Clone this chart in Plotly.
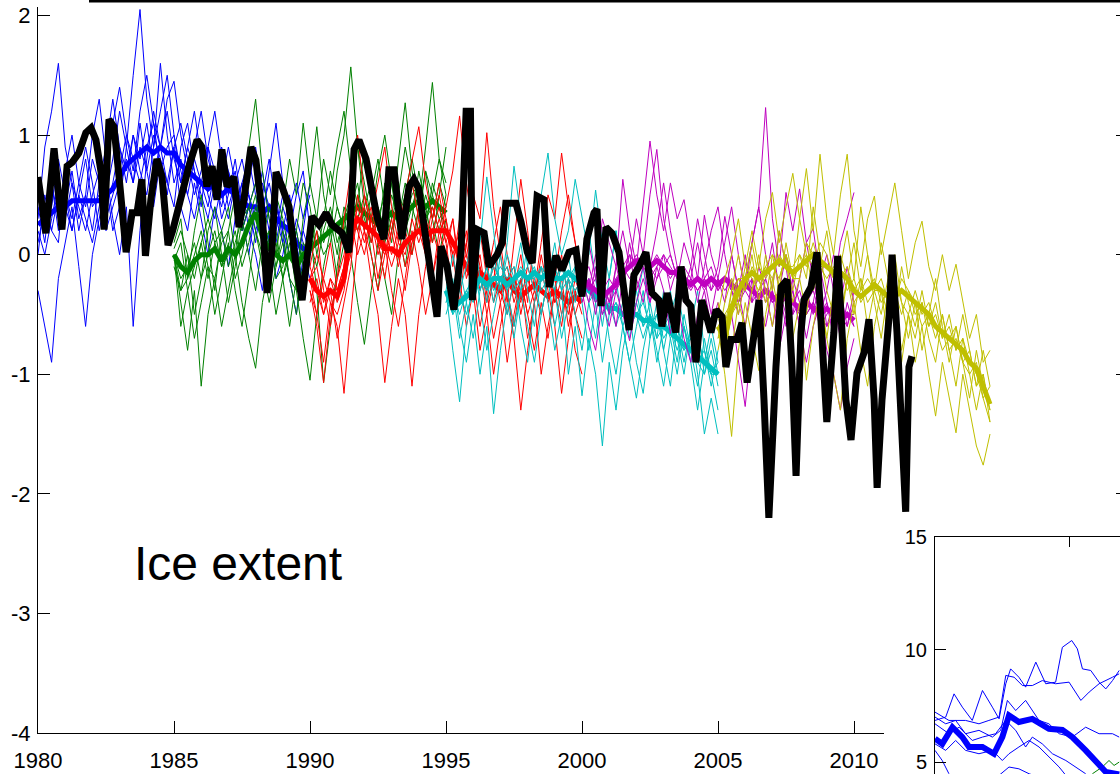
import plotly.graph_objects as go

W, H = 1120, 774

# ---------------- data ----------------
STEP = 0.25  # quarter-year spacing of hindcast members

blue_start = 1980.0
blue_mean = [0.25, 0.3, 0.35, 0.4, 0.4, 0.45, 0.45, 0.45, 0.45, 0.45,
             0.5, 0.55, 0.65, 0.75, 0.8, 0.85, 0.9, 0.85, 0.9, 0.85,
             0.85, 0.75, 0.7, 0.65, 0.6, 0.55, 0.6, 0.5, 0.55, 0.5,
             0.45, 0.4, 0.4, 0.35, 0.4, 0.3, 0.25, 0.2, 0.1, 0.05, 0.0]
blue_members = [
    [0.3, 0.9, 1.2, 1.6, 0.9, 0.6, 0.2, 0.5, 1.0, 1.3,
     0.8, 1.1, 1.4, 1.0, 0.7, 1.2, 1.5, 1.1, 0.9, 1.3,
     1.45, 1.0, 0.7, 0.9, 1.2, 0.8, 0.6, 0.9, 0.7, 0.4,
     0.6, 0.8, 0.5, 0.3, 0.7, 1.1, 0.6, 0.4, 0.6, 0.3, 0.5],
    [-0.3, -0.6, -0.9, -0.2, 0.1, 0.4, -0.1, -0.6, 0.0, 0.3,
     0.6, 0.2, 0.4, 0.9, 0.6, 1.1, 0.7, 0.4, 0.8, 0.5,
     0.9, 0.4, 0.2, 0.6, 0.3, 0.0, 0.4, 0.2, -0.1, 0.3,
     0.6, 0.2, 0.0, -0.3, 0.2, 0.5, 0.1, -0.2, -0.5, 0.0, -0.2],
    [0.5, 0.2, 0.4, 0.8, 0.5, 0.3, 0.6, 0.9, 0.6, 0.2,
     0.5, 0.8, 1.2, 0.9, 1.5, 2.05, 1.3, 0.9, 1.2, 1.5,
     1.0, 0.6, 0.9, 1.2, 0.8, 0.5, 0.3, 0.6, 0.9, 0.6,
     0.2, 0.4, 0.1, 0.5, 0.8, 0.4, 0.2, 0.5, 0.1, -0.3, 0.1],
    [0.4, 0.1, 0.6, 0.3, 0.5, 0.2, 0.5, 0.3, 0.1, 0.4,
     0.7, 0.3, 0.0, 0.4, -0.6, 0.2, 0.8, 1.2, 0.9, 0.6,
     0.4, 0.9, 1.1, 0.7, 0.4, 0.9, 1.2, 0.8, 0.5, 0.7,
     0.3, 0.0, 0.4, 0.7, 0.3, 0.1, 0.4, 0.2, 0.5, 0.7, 0.2],
    [0.0, 0.5, 0.2, 0.1, 0.7, 1.0, 0.6, 0.4, 0.8, 0.6,
     0.9, 1.3, 0.9, 0.6, 1.0, 0.7, 0.5, 0.9, 1.6, 1.0,
     0.6, 0.8, 0.5, 0.3, 0.6, 0.9, 0.7, 0.3, 0.5, 0.8,
     0.4, 0.6, 0.9, 0.5, 0.2, -0.2, 0.0, 0.3, -0.1, 0.2, 0.6],
    [0.1, 0.4, 0.2, 0.5, 0.3, 0.6, 0.4, 0.2, 0.5, 0.7,
     0.4, 0.6, 0.9, 0.7, 1.0, 0.8, 1.1, 0.7, 0.9, 1.2,
     0.8, 0.6, 0.9, 0.7, 0.5, 0.3, 0.6, 0.4, 0.7, 0.5,
     0.2, 0.4, 0.6, 0.3, 0.1, 0.4, 0.2, 0.0, 0.3, 0.1, -0.1],
    [0.5, 0.3, 0.6, 0.2, 0.4, 0.7, 0.3, 0.5, 0.2, 0.6,
     0.3, 0.5, 0.7, 1.0, 0.8, 0.6, 0.9, 1.1, 0.7, 0.9,
     1.0, 0.7, 0.5, 0.8, 0.6, 0.4, 0.7, 0.5, 0.3, 0.6,
     0.8, 0.5, 0.3, 0.6, 0.4, 0.2, 0.5, 0.3, 0.0, 0.2, 0.0],
    [0.2, 0.0, 0.3, 0.6, 0.4, 0.2, 0.5, 0.8, 0.4, 0.5,
     0.2, 0.4, 0.6, 0.8, 0.6, 0.9, 0.7, 1.0, 0.8, 0.6,
     0.9, 1.1, 0.8, 0.5, 0.7, 0.9, 0.5, 0.7, 0.4, 0.6,
     0.3, 0.5, 0.2, 0.4, 0.6, 0.3, 0.1, 0.3, 0.2, -0.1, 0.1],
]

green_start = 1985.0
green_mean = [0.0, -0.1, -0.15, -0.05, 0.0, 0.0, 0.05, -0.05, 0.05, 0.0,
              0.1, 0.25, 0.35, 0.15, 0.05, 0.0, -0.05, 0.0, -0.1, 0.0,
              0.05, 0.1, 0.15, 0.2, 0.25, 0.3, 0.35, 0.4, 0.35, 0.3,
              0.25, 0.3, 0.35, 0.3, 0.35, 0.4, 0.45, 0.4, 0.45, 0.4, 0.35]
green_members = [
    [0.0, -0.4, -0.8, -0.3, -1.1, -0.5, -0.2, -0.6, -0.3, 0.0,
     -0.4, -0.7, -0.95, -0.4, -0.1, -0.5, -0.2, 0.1, -0.3, -0.7,
     -1.05, -0.5, -0.1, 0.2, -0.2, 0.1, 0.4, 0.6, 0.2, 0.5,
     0.8, 0.4, 0.1, 0.5, 0.9, 0.6, 0.3, 0.7, 0.5, 0.8, 0.6],
    [0.1, 0.3, -0.2, 0.2, 0.5, 0.1, -0.3, 0.2, 0.4, 0.0,
     0.5, 0.9, 1.3, 0.7, 0.3, 0.0, 0.4, 0.8, 0.5, 1.1,
     0.6, 0.3, 0.8, 0.5, 0.9, 1.2, 0.7, 0.4, 0.9, 0.5,
     0.2, 0.6, 0.3, 0.8, 1.27, 0.7, 0.4, 0.9, 1.44, 0.8, 0.5],
    [-0.1, -0.3, 0.0, -0.5, -0.2, 0.2, 0.4, 0.0, -0.4, -0.1,
     0.3, 0.0, -0.3, 0.1, 0.4, 0.2, -0.2, -0.6, -0.2, 0.3,
     0.6, 1.07, 0.5, 0.2, 0.7, 1.0, 1.57, 0.9, 0.4, 0.0,
     -0.3, 0.2, 0.6, 0.2, -0.1, 0.3, 0.7, 0.4, 0.1, 0.5, 0.9],
    [0.0, -0.6, -0.3, -0.7, -0.4, -0.1, -0.5, -0.2, 0.1, -0.3,
     -0.6, -0.2, 0.2, -0.1, -0.4, -0.1, 0.2, -0.2, -0.5, -0.1,
     0.2, -0.3, -1.07, -0.6, -0.1, 0.3, 0.0, -0.4, -0.75, -0.3,
     0.1, -0.2, -0.5, 0.0, 0.3, 0.0, 0.4, 0.7, 0.3, 0.0, 0.3],
    [0.05, 0.2, 0.0, -0.2, 0.1, 0.3, 0.1, -0.1, 0.2, 0.5,
     0.2, 0.4, 0.6, 0.3, 0.1, 0.5, 0.3, 0.0, 0.2, 0.6,
     0.4, 0.0, 0.3, 0.7, 0.4, 0.2, 0.5, 0.9, 0.6, 0.3,
     0.7, 1.0, 0.6, 0.3, 0.5, 0.8, 0.5, 0.2, 0.6, 0.4, 0.2],
    [0.0, -0.2, -0.1, 0.1, -0.2, 0.0, 0.2, -0.1, 0.0, 0.2,
     -0.1, 0.1, 0.4, 0.2, -0.1, 0.1, -0.2, 0.0, 0.2, -0.1,
     0.0, 0.3, 0.1, 0.3, 0.0, 0.4, 0.2, 0.5, 0.3, 0.1,
     0.4, 0.2, 0.5, 0.3, 0.6, 0.4, 0.6, 0.3, 0.5, 0.3, 0.4],
    [-0.05, 0.1, -0.3, -0.1, 0.1, -0.2, 0.1, 0.2, -0.1, 0.1,
     0.3, 0.4, 0.2, 0.0, 0.2, -0.2, -0.1, 0.2, 0.0, -0.2,
     0.1, -0.1, 0.2, 0.4, 0.1, 0.3, 0.5, 0.2, 0.4, 0.6,
     0.3, 0.1, 0.3, 0.5, 0.2, 0.4, 0.2, 0.5, 0.3, 0.6, 0.4],
    [0.0, -0.3, -0.2, 0.0, 0.2, -0.1, -0.2, 0.1, 0.2, -0.2,
     0.0, 0.3, 0.5, 0.1, 0.2, -0.1, 0.1, -0.2, -0.3, 0.1,
     0.0, 0.2, 0.0, 0.1, 0.4, 0.2, 0.1, 0.3, 0.5, 0.2,
     0.3, 0.5, 0.2, 0.4, 0.3, 0.5, 0.6, 0.3, 0.4, 0.2, 0.5],
]

red_start = 1990.0
red_mean = [-0.2, -0.3, -0.35, -0.3, -0.35, -0.2, 0.2, 0.3, 0.25, 0.2,
            0.15, 0.05, 0.05, 0.0, 0.1, 0.15, 0.2, 0.15, 0.2, 0.2,
            0.2, 0.1, 0.0, -0.1, -0.2, -0.15, -0.2, -0.25, -0.3, -0.2,
            -0.3, -0.35, -0.3, -0.25, -0.3, -0.35, -0.3, -0.35, -0.4, -0.35, -0.4]
red_members = [
    [-0.2, -0.5, -0.9, -0.4, -0.6, -1.16, -0.5, 0.1, 0.5, 0.2,
     -0.2, 0.1, -0.3, -0.6, -0.2, 0.2, -0.1, -0.5, -0.2, 0.1,
     0.4, 0.7, 1.16, 0.6, 0.2, -0.1, -0.5, -0.2, 0.1, -0.3,
     -0.7, -1.3, -0.8, -0.4, 0.0, -0.3, -0.6, -1.16, -0.7, -0.3, -0.5],
    [-0.1, 0.2, -0.3, -0.6, -0.2, 0.3, 0.7, 1.0, 0.5, 0.3,
     0.6, 0.9, 0.4, 0.1, 0.5, 0.8, 1.07, 0.6, 0.3, 0.5,
     0.2, 0.0, -0.4, 0.1, 0.5, 0.3, 1.02, 0.4, 0.0, -0.4,
     0.1, 0.63, 0.2, -0.3, 0.1, 0.5, 0.3, 0.85, 0.4, 0.1, -0.2],
    [-0.3, -0.6, -1.07, -0.5, -0.2, 0.0, 0.3, 0.0, 0.2, -0.2,
     -0.5, -1.07, -0.6, -0.2, -0.5, -1.1, -0.5, -0.1, 0.2, 0.4,
     0.1, -0.3, -0.1, 0.2, -0.2, -0.6, -0.3, -0.7, -0.4, -0.9,
     -0.5, -0.2, -0.5, -0.8, -0.4, -0.7, -0.3, 0.0, -0.4, -0.8, -1.0],
    [-0.2, 0.0, -0.2, 0.1, -0.3, -0.1, 0.4, 0.2, 0.0, 0.3,
     0.1, -0.2, 0.2, 0.5, 0.3, 0.6, 0.3, 0.0, 0.3, 0.6,
     0.3, -0.1, 0.3, 0.0, -0.3, 0.2, -0.2, 0.1, 0.4, 0.0,
     -0.3, 0.0, -0.4, 0.2, 0.5, 0.1, -0.2, 0.2, 0.5, 0.1, -0.3],
    [-0.4, -0.2, -0.5, -0.3, -0.7, -0.4, -0.1, 0.5, 0.2, 0.0,
     -0.3, 0.0, 0.3, 0.0, -0.3, 0.1, 0.4, 0.1, -0.2, 0.2,
     0.0, 0.3, -0.2, -0.6, -0.3, -0.8, -0.5, -1.0, -0.6, -0.3,
     -0.6, -0.2, -0.7, -0.4, -1.0, -0.6, -0.3, -0.6, -0.2, -0.5, -0.7],
    [-0.3, -0.5, -0.2, -0.4, -0.5, -0.3, 0.1, 0.4, 0.2, 0.4,
     0.1, 0.0, 0.2, -0.1, 0.2, 0.0, 0.3, 0.1, 0.4, 0.2,
     0.3, 0.0, 0.2, -0.2, 0.0, -0.3, -0.1, -0.4, -0.2, -0.1,
     -0.4, -0.2, -0.5, -0.3, -0.1, -0.4, -0.2, -0.5, -0.3, -0.5, -0.3],
    [-0.2, -0.1, -0.4, -0.2, -0.3, -0.1, 0.3, 0.2, 0.4, 0.1,
     0.3, 0.1, -0.1, 0.1, 0.0, 0.3, 0.1, 0.3, 0.1, 0.3,
     0.1, 0.3, -0.1, 0.1, -0.3, -0.1, -0.3, -0.1, -0.4, -0.2,
     -0.1, -0.5, -0.2, -0.4, -0.2, -0.1, -0.4, -0.2, -0.6, -0.3, -0.2],
    [-0.1, -0.3, -0.5, -0.2, -0.4, -0.2, 0.0, 0.3, 0.1, 0.3,
     0.0, 0.2, 0.0, 0.2, -0.1, 0.1, 0.2, 0.0, 0.2, 0.0,
     0.2, 0.1, -0.1, 0.0, -0.2, 0.0, -0.4, -0.2, -0.3, -0.5,
     -0.2, -0.4, -0.1, -0.3, -0.5, -0.2, -0.4, -0.3, -0.5, -0.2, -0.4],
]

cyan_start = 1995.0
cyan_mean = [-0.3, -0.45, -0.4, -0.35, -0.3, -0.2, -0.25, -0.2, -0.2, -0.25,
             -0.2, -0.15, -0.2, -0.15, -0.2, -0.15, -0.2, -0.2, -0.15, -0.2,
             -0.25, -0.3, -0.35, -0.4, -0.45, -0.45, -0.5, -0.5, -0.5, -0.55,
             -0.55, -0.6, -0.6, -0.65, -0.7, -0.75, -0.8, -0.85, -0.9, -0.95, -1.0]
cyan_members = [
    [-0.3, -0.8, -1.23, -0.6, -0.2, 0.1, 0.65, 0.2, -0.3, 0.1,
     0.74, 0.3, -0.1, 0.2, 0.5, 0.85, 0.3, 0.0, 0.2, 0.63,
     0.3, 0.0, 0.54, 0.1, -0.2, 0.2, -0.2, -0.5, -0.3, -0.6,
     -0.4, -0.7, -0.3, -0.6, -0.9, -0.5, -0.8, -1.1, -0.7, -1.0, -1.3],
    [-0.4, -0.2, -0.6, -0.9, -0.5, -1.0, -0.6, -1.33, -0.8, -0.4,
     -0.7, -0.3, -0.6, -0.9, -0.5, -0.2, -0.6, -0.3, -1.0, -0.6,
     -1.18, -0.7, -1.0, -1.6, -0.9, -1.3, -0.8, -0.5, -0.9, -1.16,
     -0.7, -0.4, -0.8, -1.1, -0.6, -0.9, -0.6, -1.0, -1.5, -1.2, -1.5],
    [-0.2, -0.5, -0.1, -0.4, -0.7, -0.3, -0.1, -0.4, 0.0, -0.3,
     -0.6, -0.3, 0.1, -0.2, -0.5, -0.2, 0.1, -0.3, 0.0, -0.4,
     -0.1, 0.2, -0.2, -0.6, -0.2, 0.2, -0.3, -0.7, -0.4, -0.1,
     -0.5, -0.9, -0.6, -0.3, -0.7, -1.0, -0.6, -0.3, -0.8, -1.1, -0.8],
    [-0.5, -0.3, -0.7, -0.4, 0.0, -0.4, -0.8, -0.5, -0.2, -0.5,
     -0.2, -0.6, -0.9, -0.4, -0.1, -0.4, -0.8, -0.5, -0.2, -0.5,
     -0.8, -0.4, -0.7, -0.3, -0.7, -1.0, -0.6, -0.9, -1.2, -0.8,
     -0.5, -0.8, -1.1, -0.7, -1.0, -0.6, -0.9, -1.3, -0.9, -0.6, -0.9],
    [-0.3, 0.0, -0.3, -0.1, 0.2, -0.2, -0.4, 0.0, -0.3, 0.0,
     -0.2, 0.1, -0.3, -0.6, -0.2, 0.0, -0.3, -0.7, -0.4, -0.1,
     -0.4, -0.8, -0.4, -0.9, -0.5, -0.2, -0.6, -0.9, -0.6, -0.3,
     -0.7, -0.5, -0.8, -0.5, -0.3, -0.6, -0.9, -0.6, -1.0, -0.7, -1.0],
    [-0.4, -0.3, -0.5, -0.3, -0.2, -0.3, -0.1, -0.3, -0.2, -0.1,
     -0.3, -0.2, -0.1, -0.3, -0.2, -0.1, -0.2, -0.1, -0.3, -0.2,
     -0.3, -0.2, -0.4, -0.3, -0.5, -0.4, -0.6, -0.4, -0.5, -0.7,
     -0.5, -0.6, -0.5, -0.7, -0.6, -0.8, -0.7, -0.9, -0.8, -1.0, -0.9],
    [-0.3, -0.5, -0.4, -0.3, -0.4, -0.2, -0.3, -0.1, -0.2, -0.3,
     -0.2, -0.1, -0.2, -0.1, -0.3, -0.2, -0.1, -0.3, -0.2, -0.1,
     -0.2, -0.4, -0.3, -0.5, -0.4, -0.6, -0.4, -0.5, -0.4, -0.6,
     -0.5, -0.7, -0.6, -0.5, -0.7, -0.8, -0.7, -0.9, -1.0, -0.8, -1.1],
    [-0.35, -0.4, -0.3, -0.5, -0.3, -0.2, -0.3, -0.2, -0.1, -0.2,
     -0.1, -0.3, -0.2, -0.2, -0.1, -0.2, -0.3, -0.1, -0.2, -0.3,
     -0.2, -0.3, -0.4, -0.3, -0.5, -0.4, -0.5, -0.6, -0.5, -0.4,
     -0.6, -0.5, -0.7, -0.6, -0.8, -0.6, -0.8, -0.7, -0.9, -1.0, -1.0],
]

magenta_start = 2000.0
magenta_mean = [-0.2, -0.25, -0.3, -0.35, -0.3, -0.25, -0.15, -0.1, -0.05, -0.05,
                -0.1, -0.05, -0.1, -0.15, -0.15, -0.2, -0.25, -0.2, -0.25, -0.2,
                -0.25, -0.2, -0.25, -0.3, -0.25, -0.3, -0.35, -0.3, -0.35, -0.4,
                -0.35, -0.4, -0.45, -0.4, -0.45, -0.5, -0.45, -0.5, -0.55, -0.5, -0.55]
magenta_members = [
    [-0.2, 0.1, -0.2, 0.3, 0.1, -0.1, 0.63, 0.2, -0.1, 0.4,
     0.95, 0.5, 0.2, 0.6, 0.3, 0.46, 0.1, -0.2, 0.33, 0.0,
     -0.2, 0.1, 0.4, 0.0, -0.3, 0.1, 0.4, 1.23, 0.3, -0.1,
     0.52, 0.2, 0.55, 0.1, 0.22, -0.2, 0.0, -0.3, 0.1, 0.3, 0.52],
    [-0.3, -0.6, -0.8, -0.4, -0.6, -0.3, -0.5, -0.72, -0.4, -0.2,
     -0.4, -0.1, -0.3, -0.66, -0.4, -0.7, -0.9, -0.5, -0.3, -0.6,
     -0.4, -0.7, -0.5, -0.9, -1.27, -0.7, -0.4, -0.6, -0.3, -0.79,
     -0.5, -0.3, -0.6, -0.9, -0.6, -0.4, -0.8, -1.0, -1.3, -0.94, -0.7],
    [-0.1, -0.3, 0.0, -0.2, -0.5, -0.1, 0.2, -0.1, 0.3, 0.0,
     0.5, 0.88, 0.3, 0.0, -0.2, 0.1, -0.1, -0.4, -0.1, 0.2,
     0.4, 0.0, -0.3, -0.5, -0.2, 0.1, 0.4, 0.0, -0.3, 0.2,
     -0.1, -0.5, -0.2, 0.1, -0.2, -0.5, -0.3, 0.0, -0.3, -0.6, -0.3],
    [-0.4, -0.2, -0.5, -0.2, -0.4, -0.1, -0.3, 0.1, -0.2, -0.4,
     -0.1, 0.2, 0.6, 0.2, -0.1, -0.3, -0.1, 0.3, 0.0, -0.3,
     -0.1, 0.32, 0.0, -0.3, 0.0, -0.4, -0.1, -0.3, -0.6, -0.3,
     0.0, -0.3, -0.6, -0.3, -0.5, -0.2, -0.6, -0.4, -0.7, -0.4, -0.6],
    [-0.2, -0.4, -0.1, -0.5, -0.3, -0.6, -0.2, 0.0, -0.3, -0.1,
     -0.4, -0.2, 0.0, -0.3, -0.1, -0.4, -0.2, 0.1, -0.2, -0.5,
     -0.2, -0.4, 0.0, -0.3, -0.6, -0.2, -0.5, -0.2, 0.1, -0.3,
     -0.6, -0.2, -0.4, -0.7, -0.4, -0.1, -0.4, -0.7, -0.4, -0.1, -0.4],
    [-0.2, -0.3, -0.2, -0.4, -0.3, -0.2, -0.1, 0.0, -0.1, 0.0,
     -0.1, 0.0, -0.1, -0.2, -0.1, -0.2, -0.3, -0.2, -0.3, -0.2,
     -0.3, -0.2, -0.3, -0.2, -0.3, -0.4, -0.3, -0.2, -0.4, -0.3,
     -0.4, -0.5, -0.4, -0.5, -0.4, -0.5, -0.6, -0.5, -0.6, -0.5, -0.6],
    [-0.3, -0.2, -0.4, -0.3, -0.2, -0.3, -0.2, -0.1, 0.0, -0.1,
     -0.2, -0.1, 0.0, -0.1, -0.2, -0.3, -0.2, -0.3, -0.2, -0.3,
     -0.2, -0.3, -0.2, -0.4, -0.3, -0.2, -0.4, -0.3, -0.4, -0.3,
     -0.5, -0.4, -0.3, -0.5, -0.4, -0.6, -0.5, -0.4, -0.6, -0.5, -0.5],
    [-0.2, -0.1, -0.3, -0.2, -0.4, -0.3, -0.1, -0.2, -0.1, 0.0,
     -0.1, -0.2, -0.1, 0.0, -0.2, -0.1, -0.2, -0.3, -0.2, -0.1,
     -0.3, -0.2, -0.3, -0.4, -0.2, -0.3, -0.2, -0.4, -0.3, -0.5,
     -0.3, -0.4, -0.5, -0.4, -0.3, -0.5, -0.4, -0.6, -0.5, -0.6, -0.4],
]

yellow_start = 2005.0
yellow_mean = [-0.6, -0.7, -0.45, -0.3, -0.2, -0.15, -0.2, -0.15, -0.1, -0.05,
               -0.1, -0.15, -0.1, -0.05, 0.0, -0.05, -0.1, -0.15, -0.15, -0.2,
               -0.3, -0.35, -0.3, -0.25, -0.3, -0.35, -0.35, -0.3, -0.35, -0.4,
               -0.45, -0.5, -0.6, -0.65, -0.7, -0.75, -0.8, -0.9, -0.95, -1.1, -1.25]
yellow_members = [
    [-0.6, -1.0, -1.52, -0.8, -0.4, -0.7, -0.97, -0.5, -0.2, -0.5,
     -0.3, -0.7, -0.4, -1.05, -0.6, -0.3, -0.7, -1.0, -1.3, -0.7,
     -0.4, -0.8, -1.1, -0.6, -0.3, -0.7, -0.4, -0.8, -0.5, -0.9,
     -0.6, -1.0, -1.35, -0.9, -1.2, -1.49, -1.0, -1.3, -1.6, -1.76, -1.5],
    [-0.5, -0.2, 0.0, 0.3, -0.1, 0.2, -0.1, 0.3, 0.52, 0.1,
     0.4, 0.68, 0.3, 0.72, 0.2, 0.84, 0.3, 0.0, 0.5, 0.84,
     0.2, -0.1, 0.3, 0.49, 0.0, 0.3, 0.6, 0.2, -0.2, 0.1,
     0.28, -0.1, -0.3, 0.0, -0.3, -0.08, -0.4, -0.7, -0.5, -0.9, -0.8],
    [-0.7, -0.4, -0.2, -0.5, -0.2, 0.1, -0.2, -0.4, 0.0, -0.3,
     0.1, -0.2, 0.3, 0.0, -0.3, -0.1, 0.2, -0.2, -0.5, -0.2,
     0.1, -0.3, 0.0, -0.4, -0.7, -0.3, 0.0, -0.4, -0.7, -0.4,
     -0.8, -0.5, -0.2, -0.6, -0.9, -0.6, -0.9, -1.2, -0.8, -1.1, -1.3],
    [-0.8, -0.5, -0.8, -0.4, -0.6, -0.3, 0.0, -0.3, -0.6, -0.2,
     0.0, -0.4, -0.2, -0.5, -0.1, -0.4, -0.7, -0.3, -0.6, -0.2,
     -0.5, -0.2, -0.6, -0.3, -0.5, -0.2, -0.5, -0.9, -0.5, -0.7,
     -0.4, -0.7, -0.9, -0.5, -0.8, -1.1, -0.7, -1.0, -1.3, -1.0, -1.4],
    [-0.4, -0.7, -0.3, 0.0, -0.3, 0.0, -0.4, 0.0, -0.3, 0.2,
     -0.1, -0.3, 0.0, -0.2, 0.4, 0.0, -0.3, -0.5, -0.1, 0.2,
     -0.2, 0.4, 0.0, -0.3, 0.1, -0.2, -0.5, -0.1, -0.4, -0.6,
     -0.3, -0.6, -0.4, -0.7, -0.5, -0.8, -0.5, -0.8, -1.1, -0.8, -1.1],
    [-0.6, -0.5, -0.4, -0.2, -0.3, -0.1, -0.2, -0.1, 0.0, -0.1,
     0.0, -0.2, -0.1, 0.0, -0.1, 0.1, 0.0, -0.2, -0.1, -0.3,
     -0.2, -0.4, -0.3, -0.2, -0.4, -0.3, -0.4, -0.2, -0.3, -0.5,
     -0.4, -0.6, -0.5, -0.7, -0.6, -0.8, -0.7, -0.9, -1.0, -1.2, -1.1],
    [-0.5, -0.8, -0.5, -0.4, -0.1, -0.2, -0.3, -0.1, -0.2, 0.0,
     -0.1, -0.1, 0.0, -0.1, 0.1, -0.1, -0.2, -0.1, -0.2, -0.1,
     -0.3, -0.2, -0.4, -0.3, -0.2, -0.4, -0.3, -0.5, -0.3, -0.4,
     -0.6, -0.5, -0.7, -0.5, -0.8, -0.7, -0.9, -0.8, -1.1, -1.0, -1.3],
    [-0.7, -0.6, -0.3, -0.2, -0.2, -0.3, -0.1, -0.2, -0.1, -0.2,
     0.0, -0.2, -0.2, 0.1, 0.0, -0.1, -0.1, -0.2, 0.0, -0.2,
     -0.4, -0.3, -0.2, -0.3, -0.3, -0.5, -0.2, -0.4, -0.5, -0.3,
     -0.5, -0.4, -0.6, -0.8, -0.7, -0.6, -0.9, -1.0, -0.9, -1.2, -1.4],
]

obs_years = [1980.0, 1980.29, 1980.59, 1980.88, 1981.07, 1981.25, 1981.5, 1981.76, 1981.95, 1982.13,
             1982.32, 1982.43, 1982.61, 1982.79, 1982.98, 1983.24, 1983.46, 1983.64, 1983.82, 1983.95,
             1984.15, 1984.37, 1984.56, 1984.78, 1984.95, 1985.26, 1985.55, 1985.85, 1986.03, 1986.21,
             1986.4, 1986.58, 1986.76, 1986.95, 1987.2, 1987.39, 1987.57, 1987.83, 1988.01, 1988.24,
             1988.42, 1988.6, 1988.75, 1988.97, 1989.23, 1989.49, 1989.71, 1990.07, 1990.33, 1990.59,
             1990.81, 1991.18, 1991.43, 1991.62, 1991.8, 1992.06, 1992.24, 1992.46, 1992.72, 1992.9,
             1993.09, 1993.27, 1993.38, 1993.64, 1993.82, 1994.0, 1994.26, 1994.49, 1994.67, 1994.82,
             1995.04, 1995.29, 1995.55, 1995.74, 1995.9, 1995.97, 1996.15, 1996.4, 1996.58, 1996.88,
             1997.07, 1997.2, 1997.57, 1997.76, 1997.99, 1998.17, 1998.35, 1998.6, 1998.79, 1999.04,
             1999.26, 1999.52, 1999.78, 2000.0, 2000.18, 2000.44, 2000.55, 2000.7, 2000.88, 2001.1,
             2001.36, 2001.54, 2001.73, 2001.91, 2002.1, 2002.35, 2002.57, 2002.83, 2002.94, 2003.13,
             2003.45, 2003.64, 2003.82, 2004.0, 2004.19, 2004.41, 2004.6, 2004.74, 2004.93, 2005.15,
             2005.29, 2005.48, 2005.7, 2005.88, 2006.07, 2006.25, 2006.51, 2006.69, 2006.87, 2007.13,
             2007.32, 2007.54, 2007.72, 2007.87, 2008.05, 2008.16, 2008.42, 2008.64, 2008.82, 2009.0,
             2009.26, 2009.4, 2009.7, 2009.89, 2010.11, 2010.37, 2010.55, 2010.74, 2010.85, 2011.03,
             2011.29, 2011.4, 2011.58, 2011.77, 2011.9, 2012.02, 2012.13]
obs_values = [0.65, 0.18, 0.89, 0.21, 0.74, 0.77, 0.85, 1.02, 1.06, 0.96,
              0.69, 0.21, 1.13, 1.07, 0.65, 0.02, 0.35, 0.35, 0.63, -0.01,
              0.46, 0.8, 0.65, 0.08, 0.2, 0.49, 0.74, 0.96, 0.9, 0.57,
              0.74, 0.46, 0.88, 0.57, 0.65, 0.23, 0.46, 0.9, 0.79, 0.35,
              -0.32, 0.04, 0.69, 0.57, 0.4, -0.1, -0.38, 0.32, 0.25, 0.35,
              0.25, 0.18, 0.02, 0.88, 0.96, 0.8, 0.57, 0.32, 0.13, 0.71,
              0.71, 0.3, 0.13, 0.57, 0.63, 0.55, 0.15, -0.18, -0.52, 0.07,
              -0.1, -0.46, 0.02, 1.2, 1.2, -0.38, 0.21, 0.18, -0.1, 0.0,
              0.1, 0.43, 0.43, 0.27, 0.02, -0.07, 0.49, 0.46, -0.27, -0.01,
              -0.13, 0.02, 0.04, -0.35, 0.13, 0.35, 0.38, -0.43, 0.23, 0.18,
              0.02, -0.29, -0.63, -0.17, -0.1, 0.02, -0.32, -0.38, -0.6, -0.32,
              -0.65, -0.1, -0.38, -0.43, -0.9, -0.38, -0.52, -0.65, -0.46, -0.52,
              -0.94, -0.71, -0.71, -0.57, -1.07, -0.74, -0.38, -1.21, -2.2, -0.94,
              -0.27, -0.21, -0.94, -1.85, -0.65, -0.38, -0.27, 0.02, -0.79, -1.4,
              -0.65, -0.01, -1.21, -1.55, -0.99, -0.82, -0.54, -1.21, -1.95, -1.21,
              -0.52, 0.0, -0.65, -1.49, -2.15, -0.94, -0.85]

x_ticks = [1980, 1985, 1990, 1995, 2000, 2005, 2010, 2015]
x_ticktext = ["1980", "1985", "1990", "1995", "2000", "2005", "2010", "2015"]
y_ticks = [-4, -3, -2, -1, 0, 1, 2]
y_ticktext = ["-4", "-3", "-2", "-1", "0", "1", "2"]

# inset (zoom on first hindcast, absolute values)
inset_mean_x = [0, 0.27, 0.65, 1.02, 1.27, 1.77, 2.2, 2.51, 2.76, 3.13,
                3.63, 4.0, 4.25, 4.75, 5.12, 5.62, 6.0, 6.37, 6.87]
inset_mean_y = [6.04, 5.81, 6.55, 6.11, 5.67, 5.67, 5.37, 6.11, 7.07, 6.78,
                6.92, 6.70, 6.48, 6.43, 6.11, 5.52, 5.07, 4.56, 4.45]
inset_members_x = [
    [0, 0.40, 0.71, 1.02, 1.39, 1.77, 2.14, 2.39, 2.64, 2.82, 3.13, 3.38,
     3.76, 4.13, 4.50, 4.75, 5.10, 5.31, 5.50, 5.81, 6.12, 6.37, 6.62, 6.87],
    [0, 0.52, 1.14, 1.64, 2.01, 2.39, 2.64, 2.95, 3.26, 3.63, 4.0, 4.50,
     5.0, 5.44, 5.75, 6.12, 6.62, 6.87],
    [0, 0.40, 0.77, 1.14, 1.64, 2.14, 2.45, 2.70, 3.01, 3.38, 3.88, 4.25,
     4.63, 5.12, 5.62, 6.12, 6.62, 6.87],
    [0, 0.52, 0.90, 1.39, 1.77, 2.26, 2.64, 3.01, 3.38, 3.63, 4.0, 4.38,
     4.88, 5.25, 5.62],
    [0, 0.40, 0.77, 1.14, 1.64, 2.14, 2.51, 2.76, 3.13, 3.51, 3.88, 4.25,
     4.63, 4.88],
    [0, 0.27, 0.52],
    [2.39, 2.76, 3.13, 3.51, 3.88],
]
inset_members_y = [
    [6.85, 7.00, 8.03, 7.44, 6.85, 8.18, 7.44, 6.92, 8.48, 9.14, 8.77, 8.33,
     9.44, 8.48, 8.55, 10.10, 10.40, 10.03, 9.14, 9.07, 8.55, 8.25, 8.62, 9.07],
    [7.22, 6.85, 6.85, 6.70, 6.85, 7.00, 8.85, 8.77, 8.40, 8.40, 8.62, 8.48,
     8.55, 7.74, 8.11, 8.48, 8.77, 8.92],
    [7.00, 6.70, 6.85, 6.26, 6.41, 6.11, 6.41, 7.74, 7.29, 7.74, 6.85, 6.70,
     6.26, 6.11, 6.55, 6.26, 6.26, 6.11],
    [6.70, 6.26, 6.55, 5.96, 6.11, 6.26, 6.85, 6.41, 5.67, 6.11, 5.81, 5.37,
     5.07, 4.78, 4.48],
    [5.81, 5.52, 5.96, 5.52, 5.37, 5.52, 5.07, 5.37, 5.67, 5.96, 5.67, 5.22,
     4.78, 4.41],
    [5.52, 5.07, 4.48],
    [4.41, 4.78, 4.70, 4.48, 4.33],
]
inset_green_x = [5.87, 6.24, 6.49, 6.68, 6.87]
inset_green_y = [4.48, 4.78, 5.07, 4.85, 5.0]

# ---------------- figure ----------------
C_BLUE, C_GREEN, C_RED = "#0000ff", "#008000", "#ff0000"
C_CYAN, C_MAG, C_YEL = "#00bfbf", "#bf00bf", "#bfbf00"

ensembles = [
    (blue_start, C_BLUE, blue_members, blue_mean),
    (green_start, C_GREEN, green_members, green_mean),
    (red_start, C_RED, red_members, red_mean),
    (cyan_start, C_CYAN, cyan_members, cyan_mean),
    (magenta_start, C_MAG, magenta_members, magenta_mean),
    (yellow_start, C_YEL, yellow_members, yellow_mean),
]

fig = go.Figure()

for start, color, members, mean in ensembles:
    for m in members:
        t = [start + STEP * i for i in range(len(m))]
        fig.add_trace(go.Scatter(x=t, y=m, mode="lines",
                                 line=dict(color=color, width=1),
                                 showlegend=False, hoverinfo="skip"))
    t = [start + STEP * i for i in range(len(mean))]
    fig.add_trace(go.Scatter(x=t, y=mean, mode="lines",
                             line=dict(color=color, width=5),
                             showlegend=False, hoverinfo="skip"))

fig.add_trace(go.Scatter(x=obs_years, y=obs_values, mode="lines",
                         line=dict(color="black", width=7),
                         showlegend=False, hoverinfo="skip"))

# right-hand tick axis (ticks only)
fig.add_trace(go.Scatter(x=[1980], y=[0], xaxis="x", yaxis="y4", mode="markers",
                         marker=dict(opacity=0), showlegend=False, hoverinfo="skip"))

# white cover panel behind the inset (its own subplot so its background hides main data)
fig.add_trace(go.Scatter(x=[None], y=[None], xaxis="x2", yaxis="y2", mode="lines",
                         showlegend=False, hoverinfo="skip"))

# inset
for xs, ys in zip(inset_members_x, inset_members_y):
    fig.add_trace(go.Scatter(x=xs, y=ys, xaxis="x3", yaxis="y3", mode="lines",
                             line=dict(color=C_BLUE, width=1),
                             showlegend=False, hoverinfo="skip"))
fig.add_trace(go.Scatter(x=inset_green_x, y=inset_green_y, xaxis="x3", yaxis="y3", mode="lines",
                         line=dict(color=C_GREEN, width=1),
                         showlegend=False, hoverinfo="skip"))
fig.add_trace(go.Scatter(x=inset_mean_x, y=inset_mean_y, xaxis="x3", yaxis="y3", mode="lines",
                         line=dict(color=C_BLUE, width=6),
                         showlegend=False, hoverinfo="skip"))

FONT = "Liberation Sans, Arial, sans-serif"
tickfont = dict(family=FONT, size=22, color="black")
inset_tickfont = dict(family=FONT, size=20, color="black")

px_per_year = 27.2
x_right = 1980 + (W - 38) / px_per_year

fig.update_layout(
    width=W, height=H,
    margin=dict(l=0, r=0, t=0, b=0, autoexpand=False),
    paper_bgcolor="white", plot_bgcolor="white",
    showlegend=False,
    xaxis=dict(domain=[38 / W, 1.0], range=[1980, x_right], automargin=False,
               tickvals=x_ticks, ticktext=x_ticktext, ticks="inside", ticklen=12,
               tickcolor="black", showline=True, linecolor="black", linewidth=1,
               showgrid=False, zeroline=False, tickfont=tickfont,
               ticklabelstandoff=8),
    yaxis=dict(domain=[41 / H, 767 / H], range=[-4, 2.071], automargin=False,
               tickvals=y_ticks, ticktext=y_ticktext, ticks="inside", ticklen=12,
               tickcolor="black", showline=True, linecolor="black", linewidth=1,
               showgrid=False, zeroline=False, tickfont=tickfont,
               ticklabelstandoff=2),
    yaxis4=dict(overlaying="y", side="right", anchor="x", range=[-4, 2.071],
                automargin=False,
                tickvals=y_ticks, ticks="inside", ticklen=4, tickcolor="black",
                showticklabels=False, showline=False, showgrid=False, zeroline=False),
    xaxis2=dict(domain=[884 / W, 1.0], visible=False, range=[0, 1], fixedrange=True,
                automargin=False),
    yaxis2=dict(domain=[0, (H - 522) / H], visible=False, range=[0, 1], fixedrange=True,
                automargin=False),
    xaxis3=dict(domain=[935 / W, 1.0], range=[0, 6.90], anchor="y3", side="top",
                automargin=False,
                tickvals=[5], ticks="inside", ticklen=10, tickcolor="black",
                showticklabels=False, showline=True, linecolor="black", linewidth=1,
                showgrid=False, zeroline=False),
    yaxis3=dict(domain=[0, (H - 537) / H], range=[4.47, 15], anchor="x3",
                automargin=False,
                tickvals=[5, 10, 15], ticktext=["5", "10", "15"], ticks="inside",
                ticklen=11, tickcolor="black", showline=True, linecolor="black",
                linewidth=1, showgrid=False, zeroline=False, tickfont=inset_tickfont,
                ticklabelstandoff=3),
    annotations=[dict(text="Ice extent", xref="x", yref="y", x=1983.47, y=-2.585,
                      xanchor="left", yanchor="middle", showarrow=False,
                      font=dict(family=FONT, size=48, color="black"))],
    shapes=[dict(type="line", xref="paper", yref="paper", x0=89 / W, x1=1.0,
                 y0=(H - 1) / H, y1=(H - 1) / H, line=dict(color="black", width=3))],
)

fig.write_html("out.html",
               config={"displayModeBar": False},
               post_script="document.body.style.margin='0px';"
                           "document.body.style.overflow='hidden';")
